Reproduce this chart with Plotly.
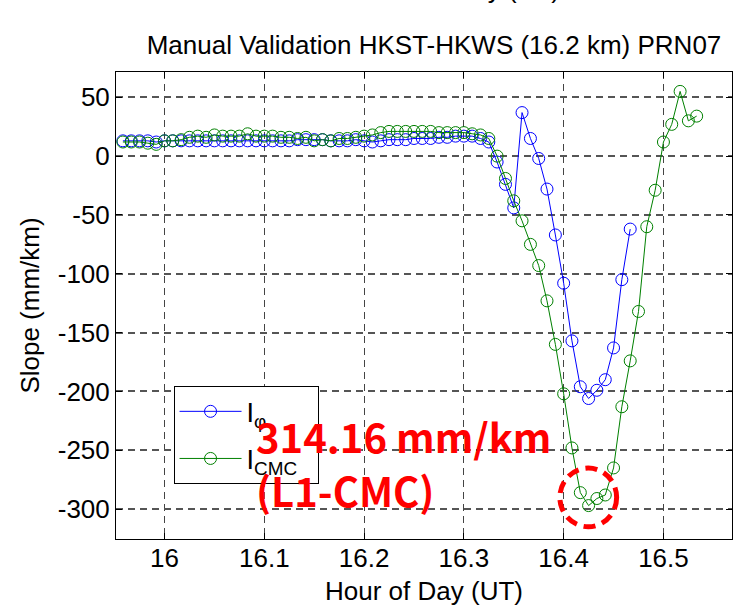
import plotly.graph_objects as go

# ---- data ----
hours = [15.9583, 15.9667, 15.9750, 15.9833, 15.9917, 16.0000, 16.0083, 16.0167, 16.0250, 16.0333,
         16.0417, 16.0500, 16.0583, 16.0667, 16.0750, 16.0833, 16.0917, 16.1000, 16.1083, 16.1167,
         16.1250, 16.1333, 16.1417, 16.1500, 16.1583, 16.1667, 16.1750, 16.1833, 16.1917, 16.2000,
         16.2083, 16.2167, 16.2250, 16.2333, 16.2417, 16.2500, 16.2583, 16.2667, 16.2750, 16.2833,
         16.2917, 16.3000, 16.3083, 16.3167, 16.3250, 16.3333, 16.3417, 16.3500, 16.3583, 16.3667,
         16.3750, 16.3833, 16.3917, 16.4000, 16.4083, 16.4167, 16.4250, 16.4333, 16.4417, 16.4500,
         16.4583, 16.4667, 16.4750, 16.4833, 16.4917, 16.5000, 16.5083, 16.5167, 16.5250, 16.5333]

slope_phi = [13, 13, 13, 13, 12, 13, 13, 13, 13, 13,
             13, 13, 13, 13, 13, 13, 13, 13, 13, 13,
             13, 14, 14, 14, 14, 13, 13, 13, 14, 13,
             12, 13, 14, 14, 14, 15, 15, 15, 16, 16,
             17, 17, 17, 15, 12, -5, -24, -44, 37, 15,
             -2, -28, -67, -108, -157, -196, -206, -199, -190, -163,
             -105, -62]

slope_cmc = [12, 12, 12, 11, 10, 13, 13, 14, 16, 17,
             16, 18, 17, 17, 17, 19, 17, 17, 17, 16,
             16, 15, 16, 13, 14, 13, 15, 15, 16, 17,
             18, 20, 21, 21, 21, 21, 21, 21, 20, 20,
             20, 20, 19, 18, 15, 0, -19, -38, -55, -75,
             -93, -123, -160, -202, -248, -286, -297, -291, -288, -265,
             -213, -174, -132, -60, -29, 12, 27, 55, 30, 34]

x_ticks = [16.0, 16.1, 16.2, 16.3, 16.4, 16.5]
x_tick_labels = ["16", "16.1", "16.2", "16.3", "16.4", "16.5"]
y_ticks = [-300, -250, -200, -150, -100, -50, 0, 50]
y_tick_labels = ["-300", "-250", "-200", "-150", "-100", "-50", "0", "50"]

series_names = ["I<sub>φ</sub>", "I<sub>CMC</sub>"]
series_colors = ["#0000FF", "#008000"]

title_text = "Manual Validation HKST-HKWS (16.2 km) PRN07"
title_line1 = "Hour of Day (UT)"
x_title = "Hour of Day (UT)"
y_title = "Slope (mm/km)"
note_line1 = "314.16 mm/km"
note_line2 = "(L1-CMC)"

FONT = "Liberation Sans, Arial, sans-serif"

fig = go.Figure()
for i, (name, col, ys) in enumerate(zip(series_names, series_colors, [slope_phi, slope_cmc])):
    fig.add_trace(go.Scatter(
        x=hours[:len(ys)], y=ys, name=name + "&nbsp;&nbsp;", mode="lines+markers",
        legendgroup="g%d" % i,
        line=dict(color=col, width=1),
        marker=dict(symbol="circle-open", size=12, color=col, line=dict(width=1, color=col)),
    ))

fig.update_layout(
    width=738, height=608,
    margin=dict(l=116, r=6, t=72, b=69, autoexpand=False),
    paper_bgcolor="white", plot_bgcolor="white",
    font=dict(family=FONT, size=26, color="black"),
    title=dict(text=title_text, x=0.5 + 10 / 616, xref="paper", xanchor="center",
               y=1 - 45 / 608, yref="container", yanchor="middle",
               font=dict(family=FONT, size=26, color="black")),
    showlegend=True,
    legend=dict(x=0.0934, y=0.327, xanchor="left", yanchor="top",
                bgcolor="white", bordercolor="black", borderwidth=1,
                font=dict(family=FONT, size=27, color="black"),
                itemwidth=62, tracegroupgap=9, traceorder="grouped"),
)

fig.update_xaxes(
    range=[15.9514, 16.5687], tickvals=x_ticks, ticktext=x_tick_labels,
    showline=True, linecolor="black", linewidth=1, mirror="ticks",
    ticks="inside", ticklen=6, tickcolor="black",
    showgrid=True, gridcolor="#444444", gridwidth=1, griddash="7px,5px",
    zeroline=False, automargin=False, ticklabelstandoff=-4,
    title=dict(text=x_title, font=dict(family=FONT, size=26), standoff=9),
    tickfont=dict(family=FONT, size=26),
)
fig.update_yaxes(
    range=[-325.4, 71.5], tickvals=y_ticks, ticktext=y_tick_labels,
    showline=True, linecolor="black", linewidth=1, mirror="ticks",
    ticks="inside", ticklen=6, tickcolor="black",
    showgrid=True, gridcolor="#555555", gridwidth=1.5, griddash="7px,5px",
    zeroline=False, automargin=False,
    title=dict(text=y_title, font=dict(family=FONT, size=26), standoff=10),
    tickfont=dict(family=FONT, size=26),
)

# clipped first title line (only its descenders show at the top edge)
fig.add_annotation(text=title_line1, xref="paper", yref="paper", x=0.5, y=1 + 83 / 467,
                   xanchor="center", yanchor="middle", showarrow=False, xshift=37,
                   font=dict(family=FONT, size=26, color="black"))

# red annotation
NOTE_FONT = "Noto Sans CJK KR, Noto Sans, sans-serif"
fig.add_annotation(text="<b>" + note_line1 + "</b>", x=16.0893, y=-238.0, xref="x", yref="y",
                   xanchor="left", yanchor="middle", showarrow=False,
                   font=dict(family=NOTE_FONT, size=40, color="#FF0000"))
fig.add_annotation(text="<b>" + note_line2 + "</b>", x=16.0893, y=-283.5, xref="x", yref="y",
                   xanchor="left", yanchor="middle", showarrow=False,
                   font=dict(family=NOTE_FONT, size=40, color="#FF0000"))

fig.add_shape(type="circle", xref="x", yref="y",
              x0=16.3962, x1=16.4531, y0=-315.0, y1=-265.1,
              line=dict(color="#FF0000", width=5, dash="12px,7px"))

fig.write_html("out.html", config={"displayModeBar": False},
               post_script="document.body.style.margin='0';document.body.style.padding='0';")
